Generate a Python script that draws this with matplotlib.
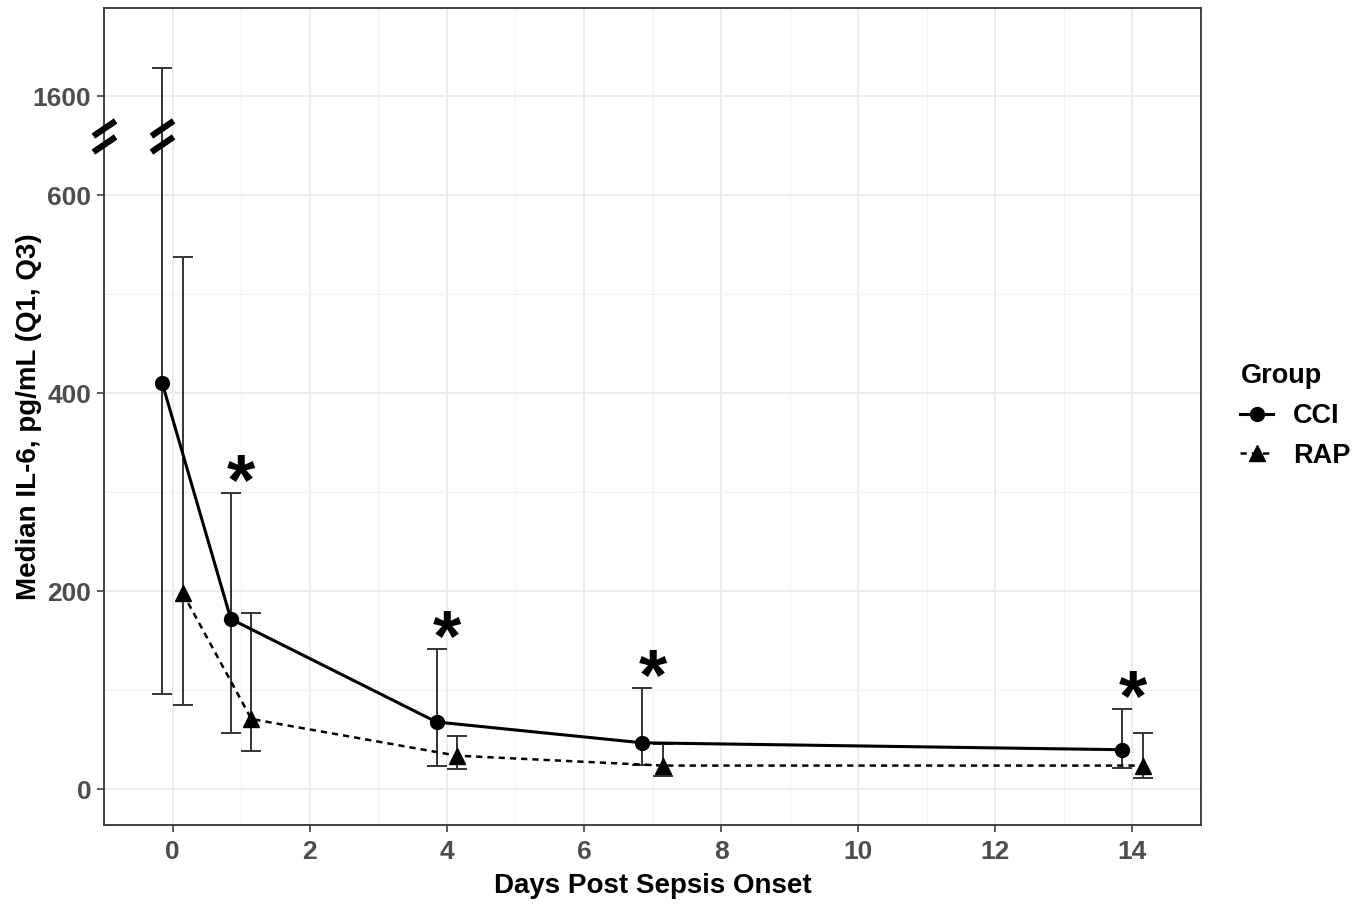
import numpy as np
import matplotlib
matplotlib.use("Agg")
import matplotlib.pyplot as plt
from matplotlib.lines import Line2D

plt.rcParams['font.family'] = ['Liberation Sans', 'DejaVu Sans']
plt.rcParams['font.weight'] = 'bold'

# data
days = [0, 1, 4, 7, 14]
cci_med = [410, 172, 68, 47, 40]
cci_q1 = [96, 57, 24, 25, 22]
cci_q3 = [1880, 299, 142, 102, 81]
rap_med = [198, 71, 34, 24, 24]
rap_q1 = [85, 39, 21, 13, 11]
rap_q3 = [538, 178, 54, 46, 57]
sig_days = [1, 4, 7, 14]

y_ticks = [0, 200, 400, 600, 1600]
x_ticks = [0, 2, 4, 6, 8, 10, 12, 14]

# broken y axis: above 600 the scale is squashed 10x
brk = 600
squash = 10


def fwd(v):
    v = np.asarray(v, float)
    return np.where(v <= brk, v, brk + (v - brk) / squash)


dodge = 0.15
grey = '#333333'

fig = plt.figure(figsize=(13.69, 9.07), dpi=100)
ax = fig.add_axes([104 / 1369, 82 / 907, 1097 / 1369, 817 / 907])

x = np.array(days, float)
xc = x - dodge
xr = x + dodge

cm, cl, cu = fwd(cci_med), fwd(cci_q1), fwd(cci_q3)
rm, rl, ru = fwd(rap_med), fwd(rap_q1), fwd(rap_q3)

ax.errorbar(xc, cm, yerr=[cm - cl, cu - cm], fmt='none', ecolor=grey,
            elinewidth=1.4, capsize=7.5, capthick=1.4, zorder=3)
ax.errorbar(xr, rm, yerr=[rm - rl, ru - rm], fmt='none', ecolor=grey,
            elinewidth=1.4, capsize=7.5, capthick=1.4, zorder=3)

ax.plot(xc, cm, color='black', lw=2.2, ls='-', marker='o', ms=10, zorder=4)
ax.plot(xr, rm, color='black', lw=1.8, ls=(0, (2.5, 2)), marker='^', ms=11, zorder=4)

# significance stars above CCI error bars
for d in sig_days:
    i = days.index(d)
    ax.text(d, cu[i] + 8, '*', ha='center', va='center', fontsize=52,
            fontweight='bold', color='black', zorder=5)

# axis break marks
slash = [(-1, -0.68), (1, 0.68)]
brk_mid = brk + 60
xl = (-1.0, 15.0)
for off in (-8, 8):
    ax.plot([xl[0]], [brk_mid + off], marker=slash, ms=16, mew=4.5, color='black',
            clip_on=False, zorder=6)
    ax.plot([xc[0]], [brk_mid + off], marker=slash, ms=16, mew=4.5, color='black',
            clip_on=False, zorder=6)

ax.set_xlim(*xl)
ax.set_ylim(-36, 789)
ax.set_xticks(x_ticks)
ax.set_xticks(np.arange(-1, 15, 2), minor=True)
ax.set_yticks(fwd(y_ticks))
ax.set_yticklabels([str(t) for t in y_ticks])
ax.set_yticks([100, 300, 500], minor=True)

ax.grid(True, which='major', color='#EBEBEB', lw=1.3, zorder=0)
ax.grid(True, which='minor', color='#F2F2F2', lw=0.8, zorder=0)
ax.set_axisbelow(True)
ax.tick_params(which='major', length=5, width=1.1, color=grey, labelsize=19,
               labelcolor='#4D4D4D')
ax.tick_params(axis='x', which='major', pad=6)
ax.tick_params(axis='y', which='major', pad=4)
ax.tick_params(which='minor', length=0)
for s in ax.spines.values():
    s.set_color(grey)
    s.set_linewidth(1.3)

ax.set_xlabel('Days Post Sepsis Onset', fontsize=20, fontweight='bold', labelpad=6)
ax.set_ylabel('Median IL-6, pg/mL (Q1, Q3)', fontsize=20, fontweight='bold', labelpad=-6.5)

handles = [
    Line2D([], [], color='black', lw=2.2, ls='-', marker='o', ms=10),
    Line2D([], [], color='black', lw=1.8, ls=(0, (2.5, 2)), marker='^', ms=11),
]
leg = fig.legend(handles, ['CCI', 'RAP'], loc='upper left',
                 bbox_to_anchor=(1216 / 1369, 1 - 339 / 907),
                 frameon=False, title='Group', handlelength=1.2,
                 handletextpad=0.75, labelspacing=0.5,
                 prop={'weight': 'bold', 'size': 19.5},
                 title_fontproperties={'weight': 'bold', 'size': 19.5})
leg._legend_box.align = 'left'
leg._legend_box.sep = 10

fig.savefig('out.png', dpi=100)
